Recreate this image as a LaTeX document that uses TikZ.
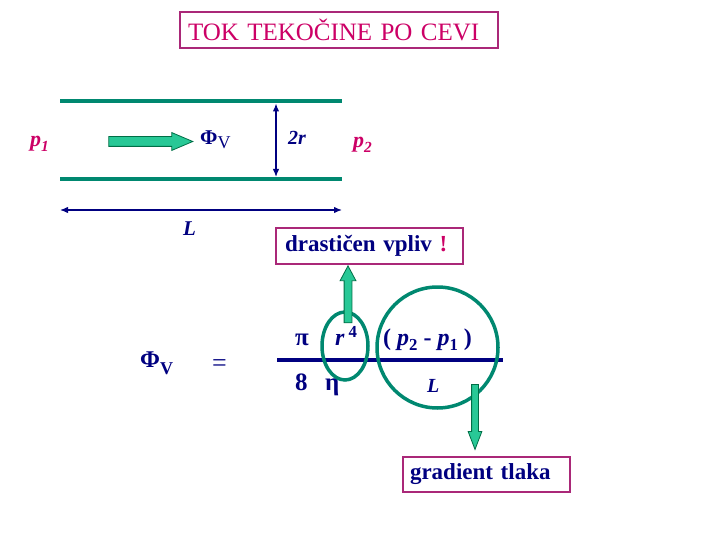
\documentclass[tikz,border=0pt]{standalone}
\usepackage{fontspec}
\setmainfont{Liberation Serif}
\usetikzlibrary{arrows.meta}
\usetikzlibrary{shapes.geometric, shapes.arrows}
\definecolor{roza}{RGB}{204,0,102}
\definecolor{okvir}{RGB}{170,40,120}
\definecolor{modra}{RGB}{0,0,128}
\definecolor{cevbarva}{RGB}{0,136,112}
\definecolor{puscica}{RGB}{40,200,150}
\definecolor{robpuscice}{RGB}{0,110,70}
\newcommand{\indeks}[1]{\raisebox{-0.22em}{\scalebox{0.7}{#1}}}
\newcommand{\potenca}[1]{\raisebox{0.32em}{\scalebox{0.7}{#1}}}
\newcommand{\vel}[1]{\fontsize{#1}{#1}\selectfont}

\begin{document}
\begin{tikzpicture}[modra, x=1pt, y=-1pt,
	napis/.style={inner sep=0pt, anchor=base west},
	okvirek/.style={draw=okvir, line width=1.2pt, align=left},
	blok/.style={single arrow, draw=robpuscice, fill=puscica, line width=0.8pt, single arrow head indent=0pt}]

	\useasboundingbox (0,0) rectangle (720,540);

	% naslov
	\node[okvirek, text=roza, text width=302pt, inner xsep=8pt, minimum height=36pt, font=\vel{25}] (naslov) at (339,30) {TOK TEKOČINE PO CEVI};

	% cev
	\coordinate (cevZL) at (60,101.5);
	\coordinate (cevZD) at (342,101.5);
	\coordinate (cevSL) at (60,179);
	\coordinate (cevSD) at (342,179);
	\draw[cevbarva, line width=4pt] (cevZL) -- (cevZD);
	\draw[cevbarva, line width=4pt] (cevSL) -- (cevSD);

	\coordinate (premerZ) at (276,103.5);
	\coordinate (premerS) at (276,177);
	\draw[line width=1.3pt, {Latex[length=8pt,width=6.5pt]}-{Latex[length=8pt,width=6.5pt]}] (premerZ) -- (premerS);

	\coordinate (dolzinaL) at (60,210);
	\coordinate (dolzinaD) at (342,210);
	\draw[line width=1.3pt, {Latex[length=8pt,width=6.5pt]}-{Latex[length=8pt,width=6.5pt]}] (dolzinaL) -- (dolzinaD);

	\node[blok, minimum height=84pt, inner sep=4.5pt, single arrow head extend=4pt, single arrow tip angle=46] (tok) at (145,141.5) {};

	\node[napis, text=roza, font=\vel{22}\bfseries\itshape] (p1) at (30,147) {p\indeks{1}};
	\node[napis, font=\vel{21}] (fiv) at (200,145) {\textbf{Φ}\raisebox{-4pt}{\vel{18}V}};
	\node[napis, font=\vel{20}\bfseries\itshape] (dvar) at (288,145) {2r};
	\node[napis, text=roza, font=\vel{22}\bfseries\itshape] (p2) at (353,148) {p\indeks{2}};
	\node[napis, font=\vel{21}\bfseries\itshape] (L) at (183,236) {L};

	% opombi
	\node[okvirek, text width=169pt, inner xsep=9pt, minimum height=36pt, font=\vel{23}\bfseries] (drastic) at (369.5,246) {drastičen vpliv {\color{roza}!}};
	\node[okvirek, text width=153pt, inner xsep=7pt, minimum height=35pt, font=\vel{23}\bfseries] (gradient) at (486.5,474.5) {gradient tlaka};

	% enacba
	\node[napis, font=\vel{24}\bfseries] (fiv2) at (140,367) {Φ\raisebox{-7pt}{\vel{18}V}};
	\node[napis, font=\vel{26}] (enako) at (212,371) {=};
	\node[napis, font=\vel{25}\bfseries] (pi) at (295,345) {π};
	\node[napis, font=\vel{24}\bfseries] (r4) at (335,345) {\textit{r}\,\potenca{4}};
	\node[napis, font=\vel{24}\bfseries] (razlika) at (383,345) {( \textit{p}\indeks{2} - \textit{p}\indeks{1} )};
	\node[napis, font=\vel{25}\bfseries] (osem) at (295,390) {8};
	\node[napis, font=\vel{25}\bfseries] (eta) at (325,390) {η};
	\node[napis, font=\vel{20}\bfseries\itshape] (L2) at (427,392) {L};

	\coordinate (ulomL) at (277,360);
	\coordinate (ulomD) at (503,360);
	\draw[line width=4.5pt] (ulomL) -- (ulomD);

	\node[draw=cevbarva, line width=3.5pt, ellipse, minimum width=46pt, minimum height=68pt] (krogr) at (345,346) {};
	\node[draw=cevbarva, line width=3.5pt, circle, minimum size=121pt] (krogp) at (437.5,347.5) {};

	\node[blok, rotate=90, minimum height=57pt, inner sep=3.5pt, single arrow head extend=4pt, single arrow tip angle=56] (gor) at (348,298) {};
	\node[blok, rotate=-90, minimum height=65pt, inner sep=3pt, single arrow head extend=3.5pt, single arrow tip angle=42] (dol) at (475,412.5) {};

\end{tikzpicture}
\end{document}
